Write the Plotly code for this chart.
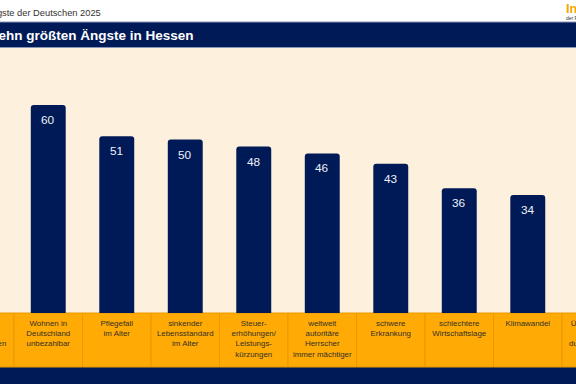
import plotly.graph_objects as go

# ---- data ----
categories = [
    "steigende<br>Lebens-<br>haltungskosten",
    "Wohnen in<br>Deutschland<br>unbezahlbar",
    "Pflegefall<br>im Alter",
    "sinkender<br>Lebensstandard<br>im Alter",
    "Steuer-<br>erhöhungen/<br>Leistungs-<br>kürzungen",
    "weltweit<br>autoritäre<br>Herrscher<br>immer mächtiger",
    "schwere<br>Erkrankung",
    "schlechtere<br>Wirtschaftslage",
    "Klimawandel",
    "Überforderung<br>von Staat<br>durch Migration",
]
values = [62, 60, 51, 50, 48, 46, 43, 36, 34, 33]
subtitle = "Die Ängste der Deutschen 2025"
title = "Die zehn größten Ängste in Hessen"
logo = "Infocenter"
logo_sub = "der R+V Versicherung"

NAVY = "#001a57"
ORANGE = "#FFAA05"
CREAM = "#FDF0DC"

W, H = 576, 384
def py(px):  # pixel row -> paper y
    return (H - px) / H

idx = list(range(len(values)))

fig = go.Figure()
fig.add_trace(go.Bar(
    x=idx, y=values, width=0.51, marker=dict(color=NAVY, line=dict(width=0)),
    hoverinfo="skip",
))

annotations = []
for i, v in zip(idx, values):
    annotations.append(dict(
        x=i, y=v, xref="x", yref="y", text=str(v), showarrow=False,
        yanchor="top", yshift=-6,
        font=dict(family="Liberation Sans, Arial", size=11.8, color="#eef1f8"),
    ))
annotations += [
    dict(x=-33 / W, y=py(13), xref="paper", yref="paper", text=subtitle,
         showarrow=False, xanchor="left", yanchor="middle",
         font=dict(family="Liberation Sans, Arial", size=9.3, color="#333333")),
    dict(x=-35 / W, y=py(35), xref="paper", yref="paper", text="<b>" + title + "</b>",
         showarrow=False, xanchor="left", yanchor="middle",
         font=dict(family="Liberation Sans, Arial", size=13.5, color="#ffffff")),
    dict(x=563.5 / W, y=py(9), xref="paper", yref="paper", text="<b>" + logo + "</b>",
         showarrow=False, xanchor="left", yanchor="middle",
         font=dict(family="Liberation Sans, Arial", size=12.5, color="#F5A700")),
    dict(x=564 / W, y=py(18), xref="paper", yref="paper", text=logo_sub,
         showarrow=False, xanchor="left", yanchor="middle",
         font=dict(family="Liberation Sans, Arial", size=5, color="#333333")),
]

shapes = [
    # title bar
    dict(type="rect", xref="paper", yref="paper", x0=0, x1=1, y0=py(47), y1=py(22),
         fillcolor=NAVY, line=dict(width=0), layer="below"),
    dict(type="line", xref="paper", yref="paper", x0=0, x1=1, y0=py(22), y1=py(22),
         line=dict(color="#8a96b8", width=1), layer="below"),
    dict(type="line", xref="paper", yref="paper", x0=0, x1=1, y0=py(47.5), y1=py(47.5),
         line=dict(color="#8a96b8", width=1), layer="below"),
    # orange label band
    dict(type="rect", xref="paper", yref="paper", x0=0, x1=1, y0=py(367), y1=py(313),
         fillcolor=ORANGE, line=dict(width=0), layer="below"),
    # bottom navy band
    dict(type="rect", xref="paper", yref="paper", x0=0, x1=1, y0=0, y1=py(367),
         fillcolor=NAVY, line=dict(width=0), layer="below"),
]
# one labelled cell per category in the orange band
for i, lab in zip(idx, categories):
    shapes.append(dict(
        type="rect", xref="x", yref="paper", x0=i - 0.5, x1=i + 0.5,
        y0=py(367), y1=py(313), fillcolor=ORANGE,
        line=dict(color="#E99A00", width=1), layer="below",
        label=dict(text=lab, textposition="top center", padding=5,
                   font=dict(family="Liberation Sans, Arial", size=7.9, color="#333026")),
    ))

fig.update_layout(
    width=W, height=H,
    margin=dict(l=0, r=0, t=0, b=0),
    paper_bgcolor="#ffffff", plot_bgcolor=CREAM,
    showlegend=False, barcornerradius=3,
    xaxis=dict(range=[0.2956, 8.704], domain=[0, 1], visible=False, fixedrange=True),
    yaxis=dict(range=[0, 76.7], domain=[py(313), py(47)], visible=False, fixedrange=True),
    annotations=annotations, shapes=shapes,
)

fig.write_html("out.html", config={"displayModeBar": False},
               post_script="document.body.style.margin='0';")
